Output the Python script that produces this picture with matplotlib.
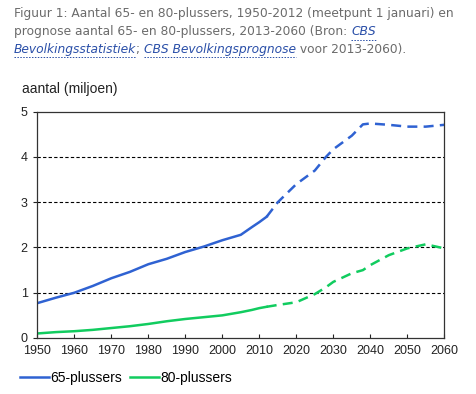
import matplotlib
matplotlib.use("Agg")
import matplotlib.pyplot as plt
from matplotlib.lines import Line2D

# ----- data (miljoen) -------------------------------------------------
hist_years = [1950, 1955, 1960, 1965, 1970, 1975, 1980, 1985, 1990, 1995,
              2000, 2005, 2008, 2010, 2012]
hist_65 = [0.77, 0.89, 1.00, 1.15, 1.32, 1.46, 1.63, 1.75, 1.90, 2.02,
           2.16, 2.28, 2.45, 2.56, 2.68]
hist_80 = [0.10, 0.13, 0.15, 0.18, 0.22, 0.26, 0.31, 0.37, 0.42, 0.46,
           0.50, 0.57, 0.62, 0.66, 0.69]

prog_years = [2012, 2015, 2020, 2025, 2028, 2030, 2035, 2038, 2040, 2045,
              2050, 2055, 2060]
prog_65 = [2.68, 3.00, 3.40, 3.70, 4.00, 4.17, 4.47, 4.72, 4.74, 4.71,
           4.67, 4.67, 4.71]
prog_80 = [0.69, 0.73, 0.79, 0.97, 1.12, 1.24, 1.43, 1.50, 1.61, 1.83,
           1.98, 2.07, 1.98]

series_names = ["65-plussers", "80-plussers"]
blue = "#2f62d2"
green = "#11cc5f"

plt.rcParams['font.family'] = ['Liberation Sans', 'DejaVu Sans']
fig = plt.figure(figsize=(4.76, 3.94), dpi=100)
W, H = 476, 394

# ----- caption above the chart ----------------------------------------
grey = "#6b6b6b"
link = "#2a4fa8"
cap_fs = 8.8
caption = [
    [("Figuur 1: Aantal 65- en 80-plussers, 1950-2012 (meetpunt 1 januari) en", False)],
    [("prognose aantal 65- en 80-plussers, 2013-2060 (Bron: ", False), ("CBS", True)],
    [("Bevolkingsstatistiek", True), ("; ", False), ("CBS Bevolkingsprognose", True),
     (" voor 2013-2060).", False)],
]
renderer = fig.canvas.get_renderer()
for i, pieces in enumerate(caption):
    y_px = 14 + i * 17.5
    x_px = 14
    for txt, is_link in pieces:
        t = fig.text(x_px / W, 1 - y_px / H, txt, fontsize=cap_fs, family="DejaVu Sans",
                     color=link if is_link else grey, style="italic" if is_link else "normal",
                     va="center")
        bb = t.get_window_extent(renderer)
        if is_link:
            fig.add_artist(Line2D([x_px / W, (x_px + bb.width) / W],
                                  [1 - (y_px + 8) / H] * 2,
                                  color=link, lw=0.7, ls=(0, (1.5, 1.5))))
        x_px += bb.width

# ----- chart -----------------------------------------------------------
ax = fig.add_axes([37.3 / W, 56 / H, 407 / W, 226.3 / H])

ax.plot(hist_years, hist_65, color=blue, lw=1.8)
ax.plot(prog_years, prog_65, color=blue, lw=1.8, ls=(0, (4, 2.5)))
ax.plot(hist_years, hist_80, color=green, lw=1.8)
ax.plot(prog_years, prog_80, color=green, lw=1.8, ls=(0, (4, 2.5)))

ax.set_xlim(1950, 2060)
ax.set_ylim(0, 5)
ax.set_xticks(range(1950, 2061, 10))
ax.set_yticks(range(0, 6))
ax.tick_params(axis="x", direction="in", length=3, labelsize=9, pad=5, colors="#222222")
ax.tick_params(axis="y", direction="out", length=3, labelsize=9, pad=4, colors="#222222")
for s in ax.spines.values():
    s.set_color("#333333")
    s.set_linewidth(0.9)

for v in [1, 2, 3, 4]:
    ax.axhline(v, color="black", lw=0.8, ls=(0, (3, 2)), zorder=0)

fig.text(22 / W, 1 - 89 / H, "aantal (miljoen)", fontsize=10, color="#222222", va="center")

handles = [Line2D([0], [0], color=blue, lw=1.8), Line2D([0], [0], color=green, lw=1.8)]
fig.legend(handles, series_names, loc="center left", bbox_to_anchor=(14 / W, 1 - 378 / H),
           ncol=2, frameon=False, fontsize=10, handlelength=2.1, handletextpad=0.1,
           columnspacing=0.6, borderaxespad=0)

fig.savefig("out.png", dpi=100)
